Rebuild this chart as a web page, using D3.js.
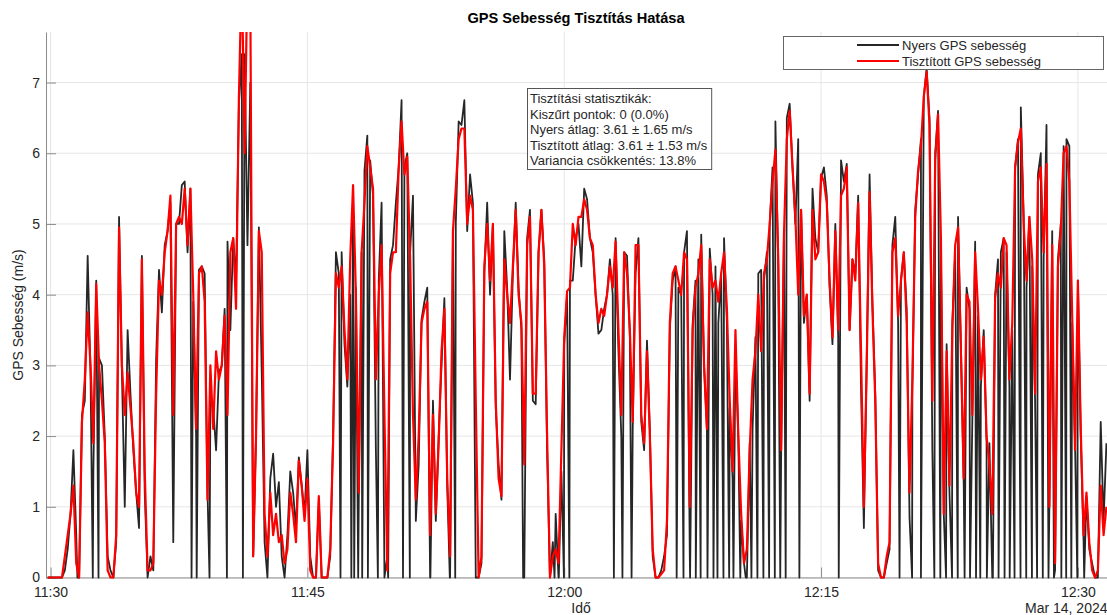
<!DOCTYPE html>
<html>
<head>
<meta charset="utf-8">
<title>GPS Sebesség Tisztítás Hatása</title>
<script src="https://d3js.org/d3.v7.min.js"></script>
<style>
    html, body { margin:0; padding:0; background:#fff; overflow:hidden; }
    svg { display:block; font-family:"Liberation Sans", Arial, sans-serif; }
</style>
</head>
<body>
<div id="chart"></div>
<script>
// samples: seconds after 11:30:00, one every 10 s
var firstSampleSec = -10;
var sampleStepSec = 10;

// raw GPS speed (m/s)
var rawSpeed = [
    0, 0, 0, 0, 0, 0, 0.1, 0.4, 0.9, 1.8,
    0.6, 0, 2.3, 2.5, 4.55, 2.9, 1.5, 4.2, 3.1, 3.0,
    2.0, 0.3, 0.1, 0, 0.5, 5.1, 2.9, 1.0, 3.5, 2.6,
    1.8, 1.2, 0.7, 4.55, 1.2, 0, 0.3, 0.1, 3.1, 4.35,
    3.75, 4.7, 4.9, 5.3, 0.5, 5.0, 5.0, 5.55, 5.6, 4.6,
    5.5, 3.9, 2.0, 4.35, 4.4, 4.3, 1.2, 2.5, 2.4, 1.8,
    2.9, 3.0, 3.8, 4.75, 3.5, 4.8, 4.2, 6.7, 7.4, 7.4,
    4.7, 7.0, 0.3, 2.0, 4.95, 2.9, 0.5, 0, 1.4, 1.75,
    1.0, 1.35, 0.3, 0, 0.6, 1.5, 1.2, 0.7, 1.7, 1.3,
    0.9, 1.8, 0.3, 0, 0, 1.1, 0, 0, 0, 0.3,
    2.0, 4.6, 4.3, 4.6, 3.3, 2.7, 4.0, 5.5, 4.1, 1.1,
    4.6, 5.75, 6.25, 5.9, 5.4, 1.8, 4.2, 5.3, 0, 0.3,
    4.5, 4.7, 5.3, 5.8, 6.75, 5.8, 6.0, 4.6, 5.4, 0.8,
    1.6, 3.65, 3.9, 4.1, 0, 2.5, 0.8, 2.0, 3.0, 3.95,
    1.3, 0, 4.9, 5.0, 6.45, 6.4, 6.75, 4.9, 5.7, 5.3,
    0, 0, 0.2, 4.3, 5.3, 4.0, 5.0, 2.4, 1.6, 1.1,
    4.9, 4.1, 2.8, 4.3, 5.3, 4.1, 3.5, 0, 4.8, 5.2,
    2.5, 2.45, 4.6, 5.2, 4.5, 1.8, 0, 0.5, 0.9, 0,
    1.5, 3.3, 4.0, 4.2, 4.2, 4.8, 5.0, 4.4, 5.5, 5.35,
    4.8, 4.6, 4.0, 3.45, 3.5, 3.8, 4.0, 4.5, 4.0, 4.8,
    3.2, 2.0, 4.6, 4.55, 3.4, 2.1, 4.3, 4.8, 2.2, 1.8,
    3.35, 2.1, 0.3, 0, 0, 0.1, 0.3, 0.6, 3.5, 4.2,
    4.4, 4.1, 4.0, 4.6, 4.9, 0.3, 3.6, 4.2, 4.5, 4.85,
    3.0, 2.1, 4.65, 4.0, 4.4, 3.6, 4.3, 4.8, 3.6, 2.4,
    1.4, 3.2, 2.0, 0.8, 0.2, 0, 1.9, 2.1, 3.4, 4.3,
    4.35, 4.2, 4.6, 5.0, 5.8, 6.45, 4.4, 1.7, 4.9, 6.5,
    6.7, 5.8, 5.0, 6.2, 5.2, 3.6, 4.0, 2.5, 5.5, 4.8,
    4.6, 5.65, 5.8, 5.4, 4.1, 3.3, 5.0, 3.4, 5.9, 5.6,
    5.85, 3.5, 4.5, 4.3, 5.4, 2.7, 0.7, 3.1, 5.7, 3.9,
    2.6, 0.1, 0, 0, 0.2, 0.4, 4.7, 5.1, 3.6, 4.2,
    4.6, 3.8, 0.85, 2.7, 5.2, 5.7, 6.2, 6.8, 7.2, 6.5,
    1.8, 6.0, 6.6, 4.6, 0.9, 3.3, 1.2, 3.6, 4.6, 5.1,
    3.3, 1.3, 4.1, 3.8, 2.2, 4.75, 3.7, 2.7, 3.5, 1.9,
    1.9, 0, 4.0, 4.5, 4.6, 4.8, 4.6, 2.7, 3.5, 5.8,
    6.2, 6.65, 5.1, 4.1, 5.1, 4.4, 2.5, 5.7, 6.0, 4.5,
    6.4, 1.0, 4.9, 0.1, 4.5, 5.0, 6.1, 6.2, 6.1, 3.6,
    1.9, 4.2, 2.0, 0.5, 1.15, 0.4, 0.2, 0, 0, 2.2,
    0.8, 1.9
];

// cleaned GPS speed (m/s)
var cleanSpeed = [
    0, 0, 0, 0, 0, 0, 0.3, 0.6, 0.9, 1.3,
    0.2, 0, 2.2, 2.8, 3.75, 3.0, 1.9, 4.15, 3.0, 2.5,
    1.9, 0.1, 0, 0, 0.6, 4.95, 3.0, 2.3, 2.9, 2.4,
    1.9, 1.2, 1.0, 4.5, 1.5, 0.1, 0.1, 0.2, 2.6, 4.2,
    4.0, 4.6, 4.9, 5.4, 2.3, 5.0, 5.1, 5.0, 5.5, 4.7,
    5.5, 4.0, 2.1, 4.3, 4.4, 3.9, 1.1, 3.0, 2.1, 3.2,
    2.8, 3.0, 3.7, 2.3, 4.6, 4.8, 3.8, 6.8, 8.6, 6.0,
    8.6, 8.2, 0.3, 2.0, 4.9, 4.6, 0.9, 0.3, 1.2, 0.6,
    0.9, 0.5, 0.6, 0.2, 0.4, 1.2, 0.9, 0.5, 1.65, 1.3,
    0.8, 1.4, 0.1, 0, 0, 1.15, 0, 0, 0, 0.4,
    1.9, 4.3, 4.1, 4.4, 3.5, 2.8, 4.5, 5.55, 4.0, 1.2,
    4.6, 5.3, 6.1, 5.8, 5.5, 2.8, 4.0, 4.7, 2.3, 0.1,
    4.3, 4.6, 4.6, 5.8, 6.45, 5.7, 5.95, 4.5, 2.3, 1.1,
    2.0, 3.6, 3.8, 3.9, 0.6, 2.3, 0.9, 1.9, 3.2, 3.8,
    1.4, 0.3, 4.9, 5.5, 6.2, 6.35, 6.35, 5.0, 5.4, 5.2,
    2.5, 0, 0.3, 4.4, 5.0, 4.2, 5.0, 2.5, 1.4, 1.15,
    4.5, 4.0, 3.6, 4.4, 5.2, 4.0, 3.6, 1.6, 4.7, 5.1,
    2.6, 2.6, 4.6, 5.2, 4.4, 2.0, 0, 0.3, 0.4, 0.2,
    1.8, 3.4, 4.05, 4.1, 5.0, 4.7, 5.1, 5.1, 5.35, 5.2,
    4.8, 4.7, 4.0, 3.6, 3.8, 3.7, 4.0, 4.4, 4.1, 4.75,
    3.5, 2.3, 4.6, 4.3, 3.5, 2.2, 4.7, 4.7, 2.3, 1.9,
    3.2, 2.0, 0.4, 0, 0, 0.05, 0.1, 0.8, 3.6, 4.3,
    4.4, 4.2, 4.0, 4.6, 4.5, 1.0, 3.5, 4.1, 4.3, 4.7,
    3.0, 2.1, 4.5, 4.1, 4.2, 3.9, 4.3, 4.6, 3.8, 2.5,
    1.5, 3.5, 2.0, 0.9, 0.2, 0.4, 1.8, 2.8, 3.2, 4.0,
    3.2, 4.3, 4.5, 5.0, 5.6, 6.05, 4.5, 1.8, 4.85, 6.2,
    6.6, 5.8, 5.1, 4.0, 5.2, 3.7, 4.0, 2.6, 5.2, 4.5,
    4.6, 5.7, 5.6, 5.3, 4.2, 3.4, 4.9, 3.5, 5.4, 5.5,
    5.8, 3.5, 4.5, 4.2, 5.3, 3.2, 1.0, 3.0, 5.45, 3.8,
    2.5, 0.2, 0, 0, 0.3, 0.5, 4.6, 4.8, 3.7, 4.2,
    4.6, 3.6, 1.2, 2.8, 5.1, 5.75, 6.1, 6.8, 7.15, 6.4,
    2.5, 5.9, 6.55, 4.8, 0.9, 3.2, 1.3, 3.5, 4.7, 4.95,
    3.2, 1.4, 4.0, 3.9, 2.3, 4.6, 3.8, 2.8, 3.4, 2.0,
    1.6, 0.9, 3.95, 4.3, 4.1, 4.8, 4.7, 2.8, 3.6, 5.8,
    6.15, 6.35, 5.0, 4.2, 5.1, 4.5, 2.6, 5.6, 5.8, 4.6,
    5.85, 1.0, 4.7, 0.2, 4.4, 4.9, 6.0, 6.1, 5.6, 3.7,
    1.8, 4.2, 2.1, 0.6, 1.2, 0.5, 0.1, 0, 0.1, 1.3,
    0.6, 1.0
];

// moments (s after 11:30) where the raw signal drops to 0
var dropoutSec = [
    94, 148, 168, 494, 512, 557, 618, 674,
    1016, 1054, 1064, 1078, 1092, 1112, 1147, 1183, 1235, 1259, 1331, 1399, 1418,
    1656, 1766, 1781, 1799, 1818, 1974, 2004, 2036, 2194,
    2218, 2241, 2261, 2278, 2302, 2323, 2337, 2358, 2378, 2393, 2417, 2436, 2456, 2477,
    2498, 2518, 2538, 2557, 2576, 2624, 2762,
    2975, 3019, 3050, 3097, 3118, 3138, 3159, 3179, 3203, 3222, 3243, 3258, 3281, 3302,
    3322, 3343, 3361, 3378, 3399, 3419, 3439, 3457, 3477, 3497, 3516, 3542, 3559, 3577,
    3598, 3622
];

var xTickLabels = ['11:30', '11:45', '12:00', '12:15', '12:30'];
var yTicks = [0, 1, 2, 3, 4, 5, 6, 7];
var xLimitSec = [-16, 3702];
var yLimit = [0, 7.715];

var legendNames = ['Nyers GPS sebesség', 'Tisztított GPS sebesség'];
var legendColors = ['#262626', '#ff0000'];
var statLines = [
    'Tisztítási statisztikák:',
    'Kiszűrt pontok: 0 (0.0%)',
    'Nyers átlag: 3.61 ± 1.65 m/s',
    'Tisztított átlag: 3.61 ± 1.53 m/s',
    'Variancia csökkentés: 13.8%'
];

var width = 1107, height = 615;
var plot = {left:46, right:1107, top:32, bottom:577.5};
var textColor = '#262626';

var baseTime = new Date(2024, 2, 14, 11, 30, 0);
function secToDate(s){
    return new Date(baseTime.getTime() + s*1000);
}

var svg = d3.select('#chart').append('svg')
    .attr('width', width)
    .attr('height', height);

var x = d3.scaleTime()
    .domain([secToDate(xLimitSec[0]), secToDate(xLimitSec[1])])
    .range([plot.left, plot.right]);
var y = d3.scaleLinear().domain(yLimit).range([plot.bottom, plot.top]);

var parseHM = d3.timeParse('%Y-%m-%d %H:%M');
var xTicks = xTickLabels.map(function(l){ return parseHM('2024-03-14 ' + l); });

//grid
var $grid = svg.append('g').attr('class', 'grid');
$grid.selectAll('line.gx').data(xTicks).enter().append('line')
    .attr('x1', function(d){ return x(d); })
    .attr('x2', function(d){ return x(d); })
    .attr('y1', plot.top).attr('y2', plot.bottom)
    .style('stroke', '#e6e6e6');
$grid.selectAll('line.gy').data(yTicks).enter().append('line')
    .attr('x1', plot.left).attr('x2', plot.right)
    .attr('y1', function(d){ return y(d); })
    .attr('y2', function(d){ return y(d); })
    .style('stroke', '#e6e6e6');

//axes
var axisX = d3.axisBottom(x).tickValues(xTicks)
    .tickFormat(d3.timeFormat('%H:%M'))
    .tickSizeInner(-10).tickSizeOuter(0).tickPadding(9.5);
var axisY = d3.axisLeft(y).tickValues(yTicks)
    .tickSizeInner(-10).tickSizeOuter(0).tickPadding(6);

var $axisX = svg.append('g').attr('transform', 'translate(0,' + plot.bottom + ')').call(axisX);
var $axisY = svg.append('g').attr('transform', 'translate(' + plot.left + ',0)').call(axisY);
[$axisX, $axisY].forEach(function($a){
    $a.select('.domain').style('stroke', '#8c8c8c');
    $a.selectAll('.tick line').style('stroke', '#8c8c8c');
    $a.selectAll('.tick text')
        .style('font-size', '14px')
        .style('fill', textColor)
        .style('font-family', '"Liberation Sans", Arial, sans-serif');
});

//data lines
svg.append('clipPath').attr('id', 'plot-clip')
    .append('rect')
    .attr('x', plot.left).attr('y', plot.top)
    .attr('width', plot.right - plot.left)
    .attr('height', plot.bottom - plot.top + 2);

var rawTable = rawSpeed.map(function(v, i){
    return {t:firstSampleSec + i*sampleStepSec, v:v};
});
dropoutSec.forEach(function(t){ rawTable.push({t:t, v:0}); });
rawTable.sort(function(a, b){ return a.t - b.t; });

var cleanTable = cleanSpeed.map(function(v, i){
    return {t:firstSampleSec + i*sampleStepSec, v:v};
});

var line = d3.line()
    .x(function(d){ return x(secToDate(d.t)); })
    .y(function(d){ return y(d.v); });

var $lines = svg.append('g').attr('clip-path', 'url(#plot-clip)');
$lines.append('path').datum(rawTable)
    .attr('d', line)
    .style('fill', 'none')
    .style('stroke', legendColors[0])
    .style('stroke-width', 1.8)
    .style('stroke-linejoin', 'round');
$lines.append('path').datum(cleanTable)
    .attr('d', line)
    .style('fill', 'none')
    .style('stroke', legendColors[1])
    .style('stroke-width', 2.2)
    .style('stroke-linejoin', 'round');

//titles
svg.append('text')
    .attr('x', 576).attr('y', 23)
    .attr('text-anchor', 'middle')
    .style('font-size', '14.6px').style('font-weight', 'bold')
    .style('fill', '#000')
    .text('GPS Sebesség Tisztítás Hatása');
svg.append('text')
    .attr('transform', 'translate(23,315) rotate(-90)')
    .attr('text-anchor', 'middle')
    .style('font-size', '14px').style('fill', textColor)
    .text('GPS Sebesség (m/s)');
svg.append('text')
    .attr('x', 581).attr('y', 613)
    .attr('text-anchor', 'middle')
    .style('font-size', '14px').style('fill', textColor)
    .text('Idő');
svg.append('text')
    .attr('x', 1025).attr('y', 613)
    .style('font-size', '14px').style('fill', textColor)
    .text('Mar 14, 2024');

//legend
var $legend = svg.append('g');
$legend.append('rect')
    .attr('x', 783.5).attr('y', 36.5)
    .attr('width', 320).attr('height', 33)
    .style('fill', '#fff').style('stroke', '#666');
legendNames.forEach(function(name, i){
    var ly = 45 + i*16;
    $legend.append('line')
        .attr('x1', 857).attr('x2', 899)
        .attr('y1', ly).attr('y2', ly)
        .style('stroke', legendColors[i]).style('stroke-width', 2);
    $legend.append('text')
        .attr('x', 902).attr('y', ly + 4.5)
        .style('font-size', '13px').style('fill', textColor)
        .text(name);
});

//stats box
var $stats = svg.append('g');
var $statsRect = $stats.append('rect')
    .style('fill', '#fff').style('stroke', '#555');
var $statsText = $stats.selectAll('text').data(statLines).enter().append('text')
    .attr('x', 530)
    .attr('y', function(d, i){ return 103 + i*15.5; })
    .style('font-size', '13px').style('fill', textColor)
    .text(function(d){ return d; });
var maxW = d3.max($statsText.nodes(), function(n){ return n.getComputedTextLength(); });
$statsRect.attr('x', 527.5).attr('y', 88.5)
    .attr('width', maxW + 7).attr('height', 81);
</script>
</body>
</html>
